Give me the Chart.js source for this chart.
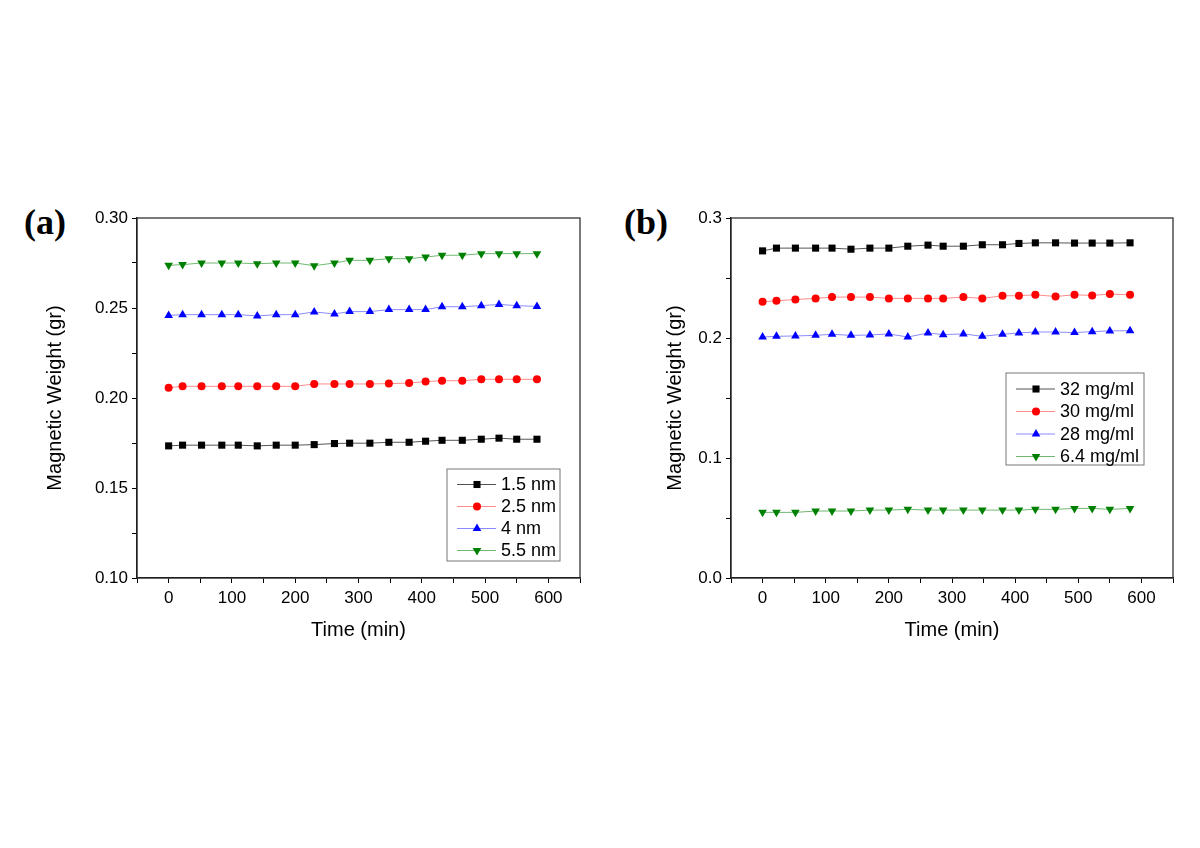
<!DOCTYPE html>
<html>
<head>
<meta charset="utf-8">
<script src="https://cdn.jsdelivr.net/npm/chart.js@4/dist/chart.umd.min.js"></script>
<style>
body{margin:0;background:#fff;width:1200px;height:848px;position:relative;overflow:hidden}
canvas{position:absolute;top:0}
#ca{left:0}
#cb{left:600px}
.tag{position:absolute;font:bold 36px "Liberation Serif",serif;line-height:36px;color:#000}
</style>
</head>
<body>
<div class="tag" style="left:24px;top:204px">(a)</div>
<div class="tag" style="left:624px;top:204px">(b)</div>
<canvas id="ca" width="600" height="848"></canvas>
<canvas id="cb" width="600" height="848"></canvas>
<script>
// time of each reading (min), same for both panels
var times = [0, 22, 52, 84, 110, 140, 170, 200, 230, 262, 286, 318, 348, 380, 406, 432, 464, 494, 522, 550, 582];

// (a) particle size series
var size15 = [0.1734, 0.1738, 0.1738, 0.1738, 0.1738, 0.1734, 0.1738, 0.1738, 0.1741, 0.1747, 0.1749, 0.1749, 0.1754, 0.1754, 0.1760, 0.1765, 0.1765, 0.1771, 0.1777, 0.1771, 0.1771];
var size25 = [0.2057, 0.2065, 0.2065, 0.2065, 0.2065, 0.2065, 0.2065, 0.2065, 0.2078, 0.2078, 0.2078, 0.2078, 0.2080, 0.2083, 0.2091, 0.2096, 0.2096, 0.2104, 0.2104, 0.2104, 0.2104];
var size40 = [0.2459, 0.2463, 0.2463, 0.2463, 0.2463, 0.2456, 0.2463, 0.2463, 0.2478, 0.2467, 0.2480, 0.2480, 0.2491, 0.2491, 0.2491, 0.2507, 0.2507, 0.2513, 0.2520, 0.2513, 0.2509];
var size55 = [0.2737, 0.2741, 0.2750, 0.2750, 0.2750, 0.2746, 0.2750, 0.2750, 0.2735, 0.2750, 0.2765, 0.2765, 0.2774, 0.2774, 0.2783, 0.2793, 0.2793, 0.2802, 0.2802, 0.2802, 0.2802];

// (b) concentration series
var conc32 = [0.2726, 0.2749, 0.2749, 0.2749, 0.2749, 0.2740, 0.2749, 0.2749, 0.2765, 0.2774, 0.2765, 0.2765, 0.2777, 0.2777, 0.2788, 0.2793, 0.2793, 0.2791, 0.2791, 0.2791, 0.2793];
var conc30 = [0.2302, 0.2310, 0.2321, 0.2330, 0.2341, 0.2341, 0.2341, 0.2330, 0.2330, 0.2330, 0.2330, 0.2341, 0.2330, 0.2352, 0.2352, 0.2360, 0.2346, 0.2360, 0.2355, 0.2366, 0.2360];
var conc28 = [0.2008, 0.2014, 0.2017, 0.2022, 0.2031, 0.2022, 0.2025, 0.2034, 0.2008, 0.2042, 0.2028, 0.2034, 0.2014, 0.2031, 0.2042, 0.2050, 0.2050, 0.2045, 0.2053, 0.2059, 0.2061];
var conc64 = [0.0547, 0.0547, 0.0547, 0.0558, 0.0558, 0.0558, 0.0566, 0.0566, 0.0572, 0.0566, 0.0566, 0.0566, 0.0566, 0.0566, 0.0566, 0.0572, 0.0572, 0.0580, 0.0580, 0.0572, 0.0580];

var labelsA = ['1.5 nm', '2.5 nm', '4 nm', '5.5 nm'];
var labelsB = ['32 mg/ml', '30 mg/ml', '28 mg/ml', '6.4 mg/ml'];

Chart.defaults.font.family = '"Liberation Sans", Arial, sans-serif';
Chart.defaults.color = '#000';

var styles = [
    {line: '#555555', mark: '#000000', shape: 'rect', r: 5, rot: 0},
    {line: '#ff8a8a', mark: '#ff0000', shape: 'circle', r: 4, rot: 0},
    {line: '#8a8aff', mark: '#0000ff', shape: 'triangle', r: 5, rot: 0},
    {line: '#70b870', mark: '#008000', shape: 'triangle', r: 5, rot: 180}
];

function pts(ys) {
    return times.map(function(t, i) { return {x: t, y: ys[i]}; });
}

// frame round the plot + hand drawn legend (line through marker like origin)
var framePlugin = {
    id: 'frame',
    afterDraw: function(chart) {
        var ctx = chart.ctx, a = chart.chartArea;
        ctx.save();
        ctx.strokeStyle = '#333';
        ctx.lineWidth = 1.3;
        ctx.strokeRect(a.left, a.top, a.right - a.left, a.bottom - a.top);

        var o = chart.options.plugins.frame;
        var x0 = a.right - o.right - o.w;
        var y0 = o.top != null ? a.top + o.top : a.bottom - o.bottom - o.h;
        ctx.lineWidth = 1;
        ctx.strokeStyle = '#777';
        ctx.strokeRect(x0, y0, o.w, o.h);
        ctx.font = '18px "Liberation Sans", Arial';
        ctx.textBaseline = 'middle';
        chart.data.datasets.forEach(function(ds, i) {
            var y = y0 + o.first + i * o.row;
            ctx.strokeStyle = ds.borderColor;
            ctx.lineWidth = 1;
            ctx.beginPath();
            ctx.moveTo(x0 + 10, y);
            ctx.lineTo(x0 + 49, y);
            ctx.stroke();
            ctx.fillStyle = ds.pointBackgroundColor;
            ctx.strokeStyle = ds.pointBackgroundColor;
            Chart.helpers.drawPoint(ctx, {pointStyle: ds.pointStyle, radius: ds.pointRadius, rotation: ds.pointRotation, borderWidth: 0}, x0 + 30, y);
            ctx.fillStyle = '#000';
            ctx.fillText(ds.label, x0 + 54, y + 1);
        });
        ctx.restore();
    }
};

function panel(id, series, names, yMin, yMax, yStep, yEvery, yDec, pad, yWidth, legend) {
    var sets = series.map(function(s, i) {
        var st = styles[i];
        return {
            label: names[i],
            data: pts(s),
            borderColor: st.line,
            borderWidth: 1,
            pointStyle: st.shape,
            pointRadius: st.r,
            pointRotation: st.rot,
            pointBackgroundColor: st.mark,
            pointBorderColor: st.mark,
            pointBorderWidth: 0
        };
    });
    return new Chart(document.getElementById(id), {
        type: 'line',
        data: {datasets: sets},
        plugins: [framePlugin],
        options: {
            responsive: false,
            animation: false,
            layout: {padding: pad},
            plugins: {legend: {display: false}, tooltip: {enabled: false}, frame: legend},
            scales: {
                x: {
                    type: 'linear', min: -50, max: 650,
                    afterFit: function(s) { s.height = 70; },
                    grid: {drawOnChartArea: false, tickLength: 5, color: '#000'},
                    border: {color: '#000', width: 1.3},
                    ticks: {
                        stepSize: 50, padding: 5, font: {size: 17}, maxRotation: 0, autoSkip: false,
                        callback: function(v) { return (v % 100 === 0 && v >= 0 && v <= 600) ? String(v) : ''; }
                    },
                    title: {display: true, text: 'Time (min)', font: {size: 20}, padding: {bottom: 6}}
                },
                y: {
                    min: yMin, max: yMax,
                    afterFit: function(s) { s.width = yWidth; },
                    grid: {drawOnChartArea: false, tickLength: 5, color: '#000'},
                    border: {color: '#000', width: 1.3},
                    ticks: {
                        stepSize: yStep, padding: 4, font: {size: 17}, autoSkip: false,
                        callback: function(v) {
                            var k = v / yEvery;
                            return Math.abs(k - Math.round(k)) < 1e-6 ? v.toFixed(yDec) : '';
                        }
                    },
                    title: {display: true, text: 'Magnetic Weight (gr)', font: {size: 20}, padding: {top: 0}}
                }
            }
        }
    });
}

panel('ca', [size15, size25, size40, size55], labelsA, 0.10, 0.30, 0.025, 0.05, 2,
    {left: 43, top: 218, right: 20, bottom: 200}, 94,
    {right: 20, bottom: 17, w: 113, h: 92, first: 15.5, row: 22});

panel('cb', [conc32, conc30, conc28, conc64], labelsB, 0, 0.3, 0.05, 0.1, 1,
    {left: 63, top: 218, right: 27, bottom: 200}, 68,
    {right: 29, top: 155, w: 138, h: 92, first: 16, row: 22.5});
</script>
</body>
</html>
